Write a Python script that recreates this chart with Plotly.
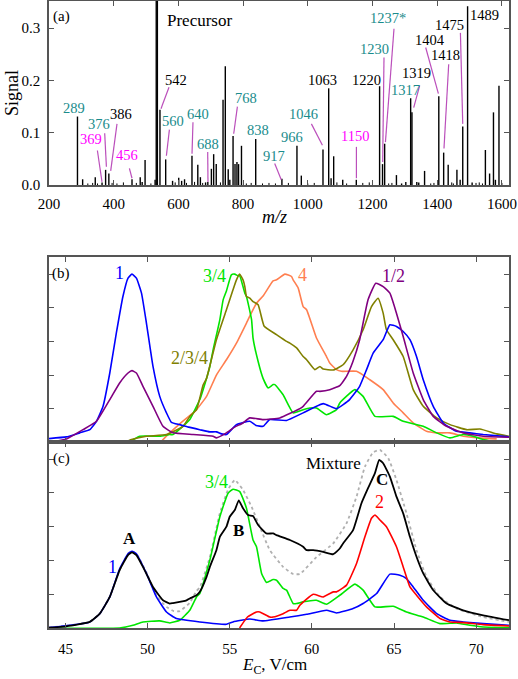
import plotly.graph_objects as go

FONT = "Liberation Serif"

# ---------------- Panel (a): mass spectrum ----------------
stick_mz = [288, 304, 343, 364, 375, 385, 456.6, 482, 488, 497, 528, 531.5, 535,
            543, 560.7, 582, 601, 610, 619, 642, 660, 668, 684, 691, 702, 709, 717,
            738, 745, 754, 759, 769, 775, 781, 786, 795, 839, 920, 966.5, 980,
            1047, 1064.6, 1072, 1080, 1108, 1150, 1222, 1231, 1237.6, 1274, 1290,
            1303, 1318, 1322, 1337, 1343, 1361, 1405, 1420, 1434, 1461, 1471, 1479,
            1494, 1508, 1549, 1562, 1574, 1580, 1591]
stick_sig = [0.131, 0.011, 0.015, 0.005, 0.029, 0.022, 0.011, 0.015, 0.006, 0.048, 0.010, 1.0, 1.0,
             0.144, 0.049, 0.008, 0.014, 0.008, 0.011, 0.056, 0.039, 0.015, 0.005, 0.006, 0.031, 0.059, 0.040,
             0.163, 0.227, 0.030, 0.010, 0.094, 0.040, 0.044, 0.040, 0.075, 0.088, 0.012, 0.075, 0.018,
             0.068, 0.185, 0.013, 0.055, 0.010, 0.010, 0.189, 0.040, 0.079, 0.019, 0.003,
             0.006, 0.166, 0.139, 0.006, 0.005, 0.027, 0.170, 0.062, 0.039, 0.029, 0.010, 0.112,
             0.342, 0.005, 0.067, 0.022, 0.139, 0.010, 0.190]
noise_mz = [320, 335, 350, 395, 410, 430, 470, 515, 590, 625, 650, 675, 730, 810, 825, 860,
            880, 900, 940, 1000, 1020, 1090, 1120, 1170, 1190, 1200, 1250, 1260, 1380, 1390,
            1445, 1450, 1520, 1530, 1540, 1600]
noise_sig = [0.003, 0.004, 0.003, 0.004, 0.003, 0.005, 0.004, 0.003, 0.005, 0.004, 0.006, 0.004,
             0.005, 0.003, 0.004, 0.003, 0.004, 0.003, 0.004, 0.003, 0.004, 0.005, 0.003, 0.004,
             0.005, 0.004, 0.003, 0.004, 0.003, 0.004, 0.005, 0.003, 0.004, 0.005, 0.003, 0.004]

# peak labels: text, colour group, label position (m/z, signal), leader line start & end (or None)
TEAL, BLACK, MAG = "#1a8c8c", "#000000", "#ff00ff"
peak_labels = [
    ("289", TEAL, 276.4, 0.148, None),
    ("376", TEAL, 354.6, 0.116, (372.2, 0.099, 377.4, 0.035)),
    ("386", BLACK, 422.6, 0.136, (410.2, 0.117, 390.7, 0.027)),
    ("369", MAG, 331.1, 0.089, (349.6, 0.066, 363.8, 0.006)),
    ("456", MAG, 442.4, 0.0565, (448.5, 0.032, 456.6, 0.013)),
    ("542", BLACK, 593.8, 0.201, (570.9, 0.187, 546.2, 0.146)),
    ("560", TEAL, 583.3, 0.122, (572.2, 0.106, 562.9, 0.056)),
    ("640", TEAL, 659.7, 0.136, (645.1, 0.120, 642.1, 0.060)),
    ("688", TEAL, 691.5, 0.079, (690.6, 0.063, 691.5, 0.006)),
    ("768", TEAL, 810.2, 0.167, (782.4, 0.150, 771.0, 0.098)),
    ("838", TEAL, 845.2, 0.1046, None),
    ("917", TEAL, 894.6, 0.055, (897.7, 0.041, 918.0, 0.010)),
    ("966", TEAL, 952.4, 0.092, None),
    ("1046", TEAL, 985.2, 0.135, (1011.2, 0.117, 1045.2, 0.076)),
    ("1063", BLACK, 1045.2, 0.201, None),
    ("1150", MAG, 1146.0, 0.093, (1150.3, 0.073, 1150.3, 0.013)),
    ("1220", BLACK, 1183.0, 0.201, None),
    ("1230", TEAL, 1206.8, 0.260, (1235.6, 0.244, 1231.5, 0.044)),
    ("1237*", TEAL, 1248.0, 0.320, (1266.5, 0.299, 1240.0, 0.082)),
    ("1317", TEAL, 1302.7, 0.182, None),
    ("1319", BLACK, 1335.7, 0.215, (1345.9, 0.190, 1327.4, 0.148)),
    ("1404", BLACK, 1376.9, 0.278, (1364.5, 0.263, 1403.7, 0.175)),
    ("1418", BLACK, 1426.4, 0.249, (1435.6, 0.231, 1421.0, 0.070)),
    ("1475", BLACK, 1438.7, 0.307, (1471.8, 0.291, 1479.0, 0.117)),
    ("1489", BLACK, 1546.9, 0.325, None),
]

# ---------------- Panel (b): normalised ion mobility curves ----------------
b1_E = [44, 45.06, 45.87, 46.48, 46.89, 47.29, 47.7, 48.1, 48.5, 48.81, 49.05, 49.32, 49.63, 49.93,
        50.33, 50.74, 51.15, 51.45, 51.96, 52.5, 53.18, 53.79, 54.19, 54.5, 54.8, 55.41, 56.22, 56.6,
        57.03, 57.44, 58.46, 59.47, 60.69, 61.5, 62.3, 62.91, 63.33, 63.73, 64.34, 64.75, 65.15,
        65.56, 65.97, 66.37, 66.78, 67.39, 68.0, 68.81, 69.62, 70.43, 72]
b1_v = [0.022, 0.032, 0.056, 0.075, 0.125, 0.214, 0.412, 0.65, 0.867, 0.976, 1.0, 0.976, 0.887, 0.709,
        0.451, 0.273, 0.175, 0.119, 0.105, 0.09, 0.075, 0.062, 0.062, 0.05, 0.046, 0.105, 0.125, 0.1,
        0.095, 0.135, 0.13, 0.175, 0.23, 0.2, 0.254, 0.333, 0.432, 0.53, 0.61, 0.699, 0.689,
        0.659, 0.61, 0.51, 0.372, 0.214, 0.115, 0.065, 0.056, 0.046, 0.032]

b12_E = [44, 45.06, 46.07, 46.89, 47.7, 48.3, 48.81, 49.05, 49.32, 49.72, 50.33, 50.94, 51.55, 52.77,
         53.99, 54.19, 54.8, 55.3, 55.81, 56.22, 57.03, 58.05, 59.27, 59.47, 60.28, 60.49, 61.09, 61.7,
         62.11, 62.5, 62.91, 63.42, 63.89, 64.34, 64.75, 65.15, 65.56, 66.17, 66.78, 67.39, 68.2, 69.21,
         70.43, 72]
b12_v = [0.0, 0.02, 0.075, 0.125, 0.254, 0.353, 0.412, 0.426, 0.412, 0.333, 0.214, 0.095, 0.056, 0.046,
         0.036, 0.026, 0.056, 0.09, 0.115, 0.145, 0.135, 0.145, 0.2, 0.214, 0.303, 0.303, 0.313, 0.337,
         0.392, 0.48, 0.61, 0.847, 0.946, 0.926, 0.887, 0.768, 0.629, 0.412, 0.254, 0.154, 0.095, 0.056,
         0.036, 0.03]

b34_E = [44, 48.8, 49.52, 50.74, 51.35, 51.55, 52.37, 52.57, 53.18, 53.38, 53.79, 53.99, 54.4, 54.6,
         54.8, 55.1, 55.3, 55.51, 55.61, 55.92, 56.02, 56.33, 56.42, 56.73, 57.03, 57.34, 57.64, 57.75,
         58.25, 58.86, 59.47, 59.88, 60.28, 60.89, 61.5, 61.7, 62.62, 63.12, 63.84, 64.95, 65.56,
         66.78, 67.6, 68.41, 69.21, 69.82, 70.43, 71.0]
b34_v = [0.0, 0.0, 0.036, 0.036, 0.046, 0.046, 0.115, 0.135, 0.254, 0.313, 0.451, 0.55, 0.73, 0.847,
         0.9, 0.996, 1.0, 0.99, 0.99, 0.887, 0.867, 0.729, 0.62, 0.48, 0.38, 0.323, 0.343, 0.343,
         0.283, 0.175, 0.194, 0.204, 0.204, 0.164, 0.194, 0.234, 0.313, 0.273, 0.154, 0.154, 0.125,
         0.095, 0.056, 0.026, 0.046, 0.036, 0.016, 0.005]

b234_E = [44, 48.6, 49.02, 49.93, 51.15, 52.16, 52.57, 52.98, 53.38, 53.59, 54.19, 54.8, 54.9, 55.2,
          55.41, 55.6, 55.81, 55.92, 56.02, 56.22, 56.42, 56.73, 57.1, 57.85, 58.46, 58.66, 59.07,
          59.47, 59.68, 60.18, 60.49, 60.69, 61.3, 61.9, 62.51, 63.12, 63.63, 64.03, 64.34, 64.54,
          64.95, 65.56, 66.17, 66.78, 67.6, 68.41, 69.42, 70.23, 71.25, 72]
b234_v = [0.0, 0.0, 0.016, 0.036, 0.046, 0.095, 0.154, 0.194, 0.34, 0.38, 0.61, 0.788, 0.818, 0.907,
          0.966, 1.0, 0.966, 0.926, 0.867, 0.857, 0.837, 0.818, 0.69, 0.64, 0.6, 0.59, 0.561,
          0.51, 0.491, 0.432, 0.451, 0.436, 0.43, 0.461, 0.55, 0.669, 0.807, 0.857, 0.768, 0.669,
          0.61, 0.51, 0.313, 0.214, 0.145, 0.105, 0.075, 0.079, 0.05, 0.036]

b4_E = [50.8, 50.94, 51.35, 51.96, 52.77, 52.98, 53.59, 54.19, 54.8, 55.41, 56.02, 56.22, 56.63, 57.03,
        57.64, 57.85, 58.36, 58.76, 58.86, 59.17, 59.47, 59.68, 60.28, 60.89, 61.09, 61.5, 61.8,
        62.72, 63.53, 64.34, 64.95, 65.56, 66.17, 66.98, 67.6, 68.41, 69.21, 70.23, 71.25]
b4_v = [0.0, 0.016, 0.056, 0.11, 0.175, 0.194, 0.273, 0.4, 0.491, 0.59, 0.709, 0.75, 0.827, 0.87,
        0.96, 0.966, 1.0, 0.986, 0.966, 0.917, 0.807, 0.788, 0.62, 0.51, 0.471, 0.432, 0.422,
        0.422, 0.372, 0.313, 0.234, 0.175, 0.115, 0.065, 0.056, 0.056, 0.036, 0.026, 0.02]

# ---------------- Panel (c): mixture and its components ----------------
cmix_E = [44, 45.06, 46.48, 47.09, 47.7, 48.3, 48.81, 49.05, 49.32, 49.72, 50.33, 50.94, 51.35, 51.55,
          52.37, 52.57, 52.98, 53.18, 53.59, 53.79, 54.19, 54.4, 54.8, 55.0, 55.31, 55.55, 55.81, 56.12,
          56.42, 56.73, 57.24, 57.64, 57.85, 58.66, 59.47, 59.68, 60.08, 60.69, 61.3, 61.7, 61.9, 62.51,
          63.02, 63.42, 63.84, 64.1, 64.34, 64.75, 65.15, 65.56, 65.97, 66.37, 66.78, 67.39, 68.2,
          69.21, 70.43, 72]
cmix_v = [0.002, 0.01, 0.036, 0.085, 0.184, 0.343, 0.432, 0.448, 0.432, 0.362, 0.243, 0.164, 0.145, 0.148,
          0.164, 0.175, 0.194, 0.214, 0.303, 0.362, 0.461, 0.54, 0.6, 0.659, 0.699, 0.756, 0.709, 0.669,
          0.663, 0.61, 0.56, 0.56, 0.55, 0.521, 0.481, 0.461, 0.461, 0.451, 0.437, 0.471, 0.501, 0.58,
          0.739, 0.828, 0.917, 0.996, 0.976, 0.897, 0.778, 0.679, 0.54, 0.422, 0.323, 0.224, 0.145,
          0.105, 0.075, 0.046]

csum_E = [44, 46.48, 47.09, 47.7, 48.3, 48.81, 49.05, 49.32, 49.93, 50.54, 51.15, 51.6, 51.96, 52.57,
          52.98, 53.18, 53.79, 54.4, 54.9, 55.31, 55.81, 56.33, 56.83, 57.44, 58.25, 58.86, 59.27,
          60.28, 61.3, 62.11, 62.72, 63.23, 63.73, 64.14, 64.65, 65.15, 65.76, 66.37, 66.98, 67.8,
          68.81, 70.43, 72]
csum_v = [0.002, 0.036, 0.085, 0.184, 0.343, 0.44, 0.455, 0.44, 0.33, 0.19, 0.125, 0.1, 0.1, 0.15,
          0.22, 0.24, 0.42, 0.68, 0.82, 0.877, 0.818, 0.718, 0.6, 0.461, 0.362, 0.32, 0.32,
          0.42, 0.501, 0.62, 0.778, 0.956, 1.04, 1.055, 1.006, 0.877, 0.679, 0.461, 0.303, 0.184,
          0.115, 0.065, 0.036]

c1_E = [44, 46.48, 47.09, 47.7, 48.3, 48.81, 49.05, 49.32, 49.93, 50.54, 51.15, 51.76, 53.18, 54.8,
        55.2, 56.22, 57.03, 58.66, 59.68, 60.89, 61.5, 62.51, 63.12, 63.94, 64.75, 65.36, 65.76,
        66.17, 66.78, 67.6, 68.41, 69.21, 70.43, 72]
c1_v = [0.002, 0.036, 0.085, 0.184, 0.35, 0.44, 0.455, 0.44, 0.323, 0.184, 0.095, 0.056, 0.036, 0.022,
        0.036, 0.053, 0.042, 0.065, 0.081, 0.105, 0.089, 0.115, 0.145, 0.204, 0.319, 0.313, 0.293,
        0.243, 0.164, 0.085, 0.046, 0.036, 0.026, 0.016]

c34_E = [44, 48.3, 49.11, 49.72, 50.74, 51.35, 51.96, 52.57, 52.98, 53.18, 53.79, 54.4, 54.9, 55.2,
         55.61, 56.02, 56.42, 56.63, 56.94, 57.24, 57.64, 57.85, 58.25, 58.46, 58.86, 59.07, 59.47,
         60.28, 60.89, 61.7, 62.62, 63.12, 63.84, 64.95, 65.76, 66.78, 67.8, 68.81, 69.62, 70.43, 72]
c34_v = [0.0, 0.0, 0.016, 0.036, 0.042, 0.03, 0.046, 0.105, 0.184, 0.204, 0.402, 0.659, 0.798, 0.822,
         0.808, 0.709, 0.521, 0.481, 0.323, 0.27, 0.287, 0.283, 0.234, 0.224, 0.145, 0.145, 0.155,
         0.164, 0.141, 0.194, 0.26, 0.224, 0.125, 0.129, 0.095, 0.065, 0.026, 0.03, 0.016, 0.006, 0.002]

c2_E = [55.6, 56.08, 56.63, 56.83, 57.44, 57.64, 58.25, 58.66, 59.07, 59.27, 60.08, 60.69, 61.3, 61.5,
        62.11, 62.72, 63.23, 63.63, 63.84, 64.14, 64.54, 65.15, 65.56, 65.97, 66.37, 66.98, 67.8,
        68.41, 69.21, 70.43, 72]
c2_v = [0.0, 0.065, 0.095, 0.095, 0.065, 0.065, 0.085, 0.105, 0.105, 0.135, 0.2, 0.184, 0.214, 0.214,
        0.254, 0.382, 0.54, 0.65, 0.669, 0.64, 0.6, 0.481, 0.362, 0.243, 0.194, 0.125, 0.056,
        0.036, 0.032, 0.02, 0.012]

# ---------------- Figure ----------------
fig = go.Figure()

def sticks(xs, ys):
    X, Y = [], []
    for m, s in zip(xs, ys):
        X += [m, m, None]
        Y += [0, s, None]
    return X, Y

nx, ny = sticks(noise_mz, noise_sig)
fig.add_trace(go.Scatter(x=nx, y=ny, mode="lines", line=dict(color="black", width=1),
                         xaxis="x", yaxis="y", hoverinfo="skip", showlegend=False))
sx, sy = sticks(stick_mz, stick_sig)
fig.add_trace(go.Scatter(x=sx, y=sy, mode="lines", line=dict(color="black", width=1.4),
                         xaxis="x", yaxis="y", showlegend=False))

LX, LY = [], []
for txt, col, lx, ly, ld in peak_labels:
    if ld is not None:
        LX += [ld[0], ld[2], None]
        LY += [ld[1], ld[3], None]
fig.add_trace(go.Scatter(x=LX, y=LY, mode="lines", line=dict(color="#bb4fbb", width=1.2),
                         xaxis="x", yaxis="y", hoverinfo="skip", showlegend=False))

def curve(E, v, color, ax, width=1.6, dash=None):
    fig.add_trace(go.Scatter(x=E, y=v, mode="lines",
                             line=dict(color=color, width=width, dash=dash, shape="spline", smoothing=0.4),
                             xaxis="x" + ax, yaxis="y" + ax, showlegend=False))

BLUE, PURPLE, GREEN, OLIVE, ORANGE, RED = "#0000ff", "#800080", "#00e600", "#808000", "#ff7f50", "#ff0000"

curve(b4_E, b4_v, ORANGE, "2")
curve(b34_E, b34_v, GREEN, "2")
curve(b234_E, b234_v, OLIVE, "2")
curve(b1_E, b1_v, BLUE, "2")
curve(b12_E, b12_v, PURPLE, "2")

curve(csum_E, csum_v, "#b0b0b0", "3", width=1.8, dash="dot")
curve(c34_E, c34_v, GREEN, "3")
curve(c1_E, c1_v, BLUE, "3")
curve(c2_E, c2_v, RED, "3")
curve(cmix_E, cmix_v, "black", "3", width=1.8)

axis_common = dict(showline=True, linecolor="#555555", linewidth=1.5, mirror="ticks",
                   ticks="inside", ticklen=5, tickwidth=1, tickcolor="#555555",
                   showgrid=False, zeroline=False, automargin=False,
                   tickfont=dict(family=FONT, size=15, color="black"))

fig.update_layout(
    width=518, height=679,
    margin=dict(l=49, r=9, t=1, b=51, autoexpand=False),
    paper_bgcolor="white", plot_bgcolor="white",
    font=dict(family=FONT, size=14, color="black"),
    xaxis=dict(axis_common, range=[200, 1622], tickvals=[200, 400, 600, 800, 1000, 1200, 1400, 1600],
               anchor="y", domain=[0, 1], ticklabelstandoff=4),
    yaxis=dict(axis_common, range=[0, 0.352], tickvals=[0.0, 0.1, 0.2, 0.3], tickformat=".1f",
               anchor="x", domain=[0.7065, 1], ticklabelstandoff=4),
    xaxis2=dict(axis_common, range=[44, 72], tickvals=[45, 50, 55, 60, 65, 70], showticklabels=False,
                anchor="y2", domain=[0, 1]),
    yaxis2=dict(axis_common, range=[0, 1.1], tickvals=[0.2, 0.4, 0.6, 0.8, 1.0], showticklabels=False,
                anchor="x2", domain=[0.2962, 0.5912]),
    xaxis3=dict(axis_common, range=[44, 72], tickvals=[45, 50, 55, 60, 65, 70],
                anchor="y3", domain=[0, 1], ticklabelstandoff=6),
    yaxis3=dict(axis_common, range=[0, 1.1], tickvals=[0.2, 0.4, 0.6, 0.8, 1.0], showticklabels=False,
                anchor="x3", domain=[0, 0.2962]),
)

ann = []
def A(text, x, y, xref, yref, size=14, color="black", **kw):
    ann.append(dict(text=text, x=x, y=y, xref=xref, yref=yref, showarrow=False,
                    font=dict(family=FONT, size=size, color=color), xanchor="center", yanchor="middle", **kw))

for txt, col, lx, ly, ld in peak_labels:
    A(txt, lx, ly, "x", "y", size=14.5, color=col)
A("Precursor", 665.8, 0.315, "x", "y", size=17)
A("(a)", 238.3, 0.323, "x", "y", size=15)

A("(b)", 44.755, 1.006, "x2", "y2", size=15)
A("1", 48.31, 1.006, "x2", "y2", size=18, color=BLUE)
A("3/4", 54.09, 0.99, "x2", "y2", size=18, color=GREEN)
A("2/3/4", 52.53, 0.501, "x2", "y2", size=18, color=OLIVE)
A("4", 59.43, 0.996, "x2", "y2", size=18, color=ORANGE)
A("1/2", 64.99, 0.99, "x2", "y2", size=18, color=PURPLE)

A("(c)", 44.755, 1.006, "x3", "y3", size=15)
A("<b>A</b>", 48.91, 0.531, "x3", "y3", size=17)
A("1", 47.88, 0.362, "x3", "y3", size=18, color=BLUE)
A("3/4", 54.19, 0.867, "x3", "y3", size=18, color=GREEN)
A("<b>B</b>", 55.51, 0.58, "x3", "y3", size=17)
A("Mixture", 61.3, 0.976, "x3", "y3", size=17)
A("<b>C</b>", 64.24, 0.877, "x3", "y3", size=17)
A("2", 64.14, 0.748, "x3", "y3", size=18, color=RED)

A("<i>m/z</i>", 0.4913, 0.6555, "paper", "paper", size=18)
A("Signal", -0.0804, 0.8533, "paper", "paper", size=18, textangle=-90)
A("<i>E</i><sub>C</sub>, V/cm", 0.4913, -0.061, "paper", "paper", size=17)

fig.update_layout(annotations=ann)
fig.write_html("out.html", config={"displayModeBar": False},
               post_script="document.body.style.margin='0';document.body.style.padding='0';"
                           "document.documentElement.style.margin='0';")
